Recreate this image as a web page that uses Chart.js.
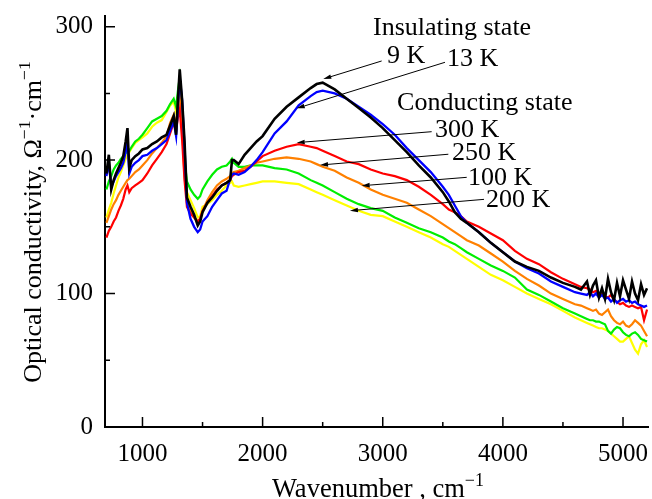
<!DOCTYPE html>
<html>
<head>
<meta charset="utf-8">
<script src="https://cdn.jsdelivr.net/npm/chart.js@4.4.1/dist/chart.umd.min.js"></script>
<style>
  html, body { margin: 0; padding: 0; background: #fff; }
  canvas { display: block; }
</style>
</head>
<body>
<canvas id="spectra" width="652" height="499"></canvas>
<script>
// wavenumber grid (cm^-1), shared by all spectra
const wavenumbers = [
  700, 720, 740, 760, 780, 800, 820, 840, 860, 875, 890, 910, 940, 970,
  1000, 1040, 1080, 1120, 1160, 1200,
  1230, 1260, 1280, 1295, 1310, 1330, 1350, 1370,
  1400, 1430, 1460, 1480, 1500,
  1540, 1580, 1620, 1660, 1700, 1730, 1745, 1760, 1800,
  1850, 1900, 1950, 2000,
  2100, 2200, 2300, 2400, 2450, 2500,
  2600, 2700, 2800, 2900, 3000, 3100, 3200, 3300, 3400, 3500,
  3550, 3600, 3650, 3700,
  3800, 3900, 4000, 4100, 4200, 4300, 4400, 4500, 4600,
  4650, 4700, 4725, 4750, 4775, 4800, 4825, 4850, 4875, 4900, 4925, 4950, 4975,
  5000, 5025, 5050, 5075, 5100, 5125, 5150, 5175, 5200
];

// optical conductivity, Ohm^-1 cm^-1
const k9 = [
  190, 204, 178, 185, 190, 194, 198, 203, 214, 224, 194, 200, 203, 205,
  208, 209, 212, 214, 217, 219,
  226, 233, 219, 245, 268, 245, 214, 172,
  165, 159, 151, 154, 161,
  168, 172, 177, 181, 183, 185, 200, 200, 197,
  204, 209, 214, 218,
  231, 240, 247, 254, 257, 258,
  253, 246, 239, 232, 224, 215, 206, 196, 187, 176,
  169, 161, 156, 153,
  146, 138, 131, 124, 120, 117, 112, 108, 105,
  103, 109, 99, 106, 110, 97, 104, 96, 111, 101, 95, 108, 98,
  110, 103, 96, 109, 100, 95, 107, 99, 104
];
const k13 = [
  188, 198, 180, 184, 188, 191, 194, 198, 206, 215, 190, 195, 198, 200,
  203, 204, 207, 209, 212, 215,
  222, 229, 218, 240, 262, 245, 210, 168,
  156, 150, 146, 148, 154,
  158, 165, 170, 175, 177, 186, 189, 190, 189,
  191, 195, 200, 206,
  220, 229, 241, 248, 251, 252,
  250, 246, 240, 234, 227, 219, 209, 200, 191, 180,
  174, 166, 158, 153,
  146, 138, 131, 124, 119, 115, 109, 105, 101,
  100, 99, 101, 98, 100, 97, 99, 96, 97, 94, 96, 93, 95,
  96, 94, 95, 93, 94, 92, 91, 90, 91
];
const k300 = [
  142, 147, 150, 154, 157, 162, 166, 171, 178, 181, 176, 179, 181, 183,
  185, 190, 196, 201, 206, 212,
  220, 228, 222, 232, 238, 215, 185, 165,
  160, 157, 154, 156, 162,
  168, 173, 178, 181, 183, 185, 188, 189, 191,
  192, 195, 199, 203,
  207, 210, 212, 210, 209, 207,
  203, 199, 197, 193, 190, 188, 185, 180, 174, 167,
  163, 161, 158, 154,
  150, 145, 140, 132, 126, 122, 116, 111, 107,
  105, 104, 103, 101, 102, 99, 100, 98, 97, 99, 95, 94, 92,
  93, 91, 90, 91, 90, 89, 90, 80, 88
];
const k250 = [
  153, 158, 163, 167, 170, 174, 177, 180, 183, 185, 186, 188, 191, 193,
  196, 200, 205, 209, 213, 218,
  228, 234, 226, 240, 248, 225, 188, 170,
  162, 157, 154, 156, 162,
  170, 176, 181, 184, 186, 188, 190, 191, 192,
  194, 196, 198, 199,
  201, 202, 201, 199, 197, 195,
  192, 187, 183, 178, 174, 171, 168, 163, 158, 152,
  149, 146, 143, 140,
  136, 130, 124, 117, 111, 106, 100, 96, 92,
  91, 89, 88, 87, 88, 85, 84, 86, 88, 83, 80, 78, 77,
  79, 76, 75, 77, 80, 78, 76, 72, 68
];
const k100 = [
  178, 184, 188, 193, 196, 198, 201, 203, 205, 207, 207, 210, 214, 216,
  219, 224, 229, 231, 233, 237,
  242, 246, 240, 252, 262, 240, 200, 184,
  178, 174, 171, 173, 178,
  184, 189, 193, 195, 196, 199, 201, 198, 195,
  195, 196, 196, 196,
  194, 193, 190, 185, 183, 181,
  176, 171, 167, 164, 162, 157, 153, 149, 146, 142,
  139, 137, 134, 131,
  126, 121, 117, 112, 103, 99, 94, 89, 85,
  83, 81, 80, 80, 79, 79, 78, 77, 72, 70, 73, 75, 74,
  71, 69, 68, 70, 71, 69, 66, 65, 64
];
const k200 = [
  157, 163, 168, 175, 181, 187, 191, 196, 201, 204, 206, 209, 213, 215,
  217, 220, 225, 228, 230, 236,
  241, 244, 236, 248, 255, 230, 192, 176,
  170, 164, 157, 158, 165,
  167, 170, 174, 177, 181, 183, 184, 181, 180,
  181, 182, 183, 184,
  184, 183, 182, 178, 176, 174,
  170, 166, 162, 159, 158, 154, 150, 146, 142, 137,
  135, 132, 129, 126,
  120, 114, 110, 105, 100, 96, 92, 87, 82,
  80, 78, 77, 76, 75, 74, 74, 73, 72, 70, 68, 66, 64,
  64, 66, 68, 63, 58, 55, 62, 65, 60
];

const xMajor = [1000, 2000, 3000, 4000, 5000];
const xMinor = [1500, 2500, 3500, 4500];
const yMajor = [0, 100, 200, 300];
const yMinor = [50, 150, 250];

// annotation texts: [text, wavenumber of left edge, value at baseline]
const notes = [
  ['Insulating state', 2919, 293.8],
  ['9 K', 3035, 272.8],
  ['13 K', 3535, 270.5],
  ['Conducting state', 3119, 237.6],
  ['300 K', 3435, 217.3],
  ['250 K', 3576, 200.1],
  ['100 K', 3710, 181.4],
  ['200 K', 3860, 164.9]
];
// arrows: [tail x, tail y, head x, head y] in data units
const arrows = [
  [2991, 274.3, 2505, 260.8],
  [3518, 273.3, 2284, 238.8],
  [3407, 221.3, 2284, 213.1],
  [3546, 204.4, 2478, 196.3],
  [3699, 187.1, 2825, 180.8],
  [3843, 170.6, 2727, 162.1]
];

const SERIF = "'Liberation Serif', 'Times New Roman', serif";

function series(label, values, color, width) {
  return {
    label,
    data: wavenumbers.map((w, i) => ({ x: w, y: values[i] })),
    borderColor: color,
    borderWidth: width,
    pointRadius: 0,
    tension: 0,
    fill: false
  };
}

// text with superscript pieces, drawn left to right from x
function richWidth(ctx, parts, size) {
  let w = 0;
  parts.forEach(p => {
    ctx.font = (p.sup ? size * 0.68 : size) + 'px ' + SERIF;
    w += ctx.measureText(p.t).width;
  });
  return w;
}
function drawRich(ctx, parts, x, y, size) {
  parts.forEach(p => {
    const s = p.sup ? size * 0.68 : size;
    ctx.font = s + 'px ' + SERIF;
    ctx.fillText(p.t, x, p.sup ? y - size * 0.42 : y);
    x += ctx.measureText(p.t).width;
  });
}

const overlay = {
  id: 'overlay',
  afterDraw(chart) {
    const { ctx, chartArea: area } = chart;
    const x = chart.scales.x, y = chart.scales.y;
    ctx.save();
    ctx.strokeStyle = '#000';
    ctx.fillStyle = '#000';

    // inward tick marks
    ctx.lineWidth = 1.5;
    ctx.beginPath();
    xMajor.forEach(v => { const px = x.getPixelForValue(v); ctx.moveTo(px, area.bottom); ctx.lineTo(px, area.bottom - 10); });
    xMinor.forEach(v => { const px = x.getPixelForValue(v); ctx.moveTo(px, area.bottom); ctx.lineTo(px, area.bottom - 5); });
    yMajor.slice(1).forEach(v => { const py = y.getPixelForValue(v); ctx.moveTo(area.left, py); ctx.lineTo(area.left + 10, py); });
    yMinor.forEach(v => { const py = y.getPixelForValue(v); ctx.moveTo(area.left, py); ctx.lineTo(area.left + 5, py); });
    ctx.stroke();

    // axis titles
    ctx.textAlign = 'left';
    ctx.textBaseline = 'alphabetic';
    const xt = [{ t: 'Wavenumber , cm' }, { t: '\u22121', sup: true }];
    drawRich(ctx, xt, 378 - richWidth(ctx, xt, 26.5) / 2, 497, 26.5);

    const yt = [{ t: 'Optical conductivity, \u03A9' }, { t: '\u22121', sup: true }, { t: '\u00B7cm' }, { t: '\u22121', sup: true }];
    ctx.save();
    ctx.translate(41, 222);
    ctx.rotate(-Math.PI / 2);
    drawRich(ctx, yt, -richWidth(ctx, yt, 26) / 2, 0, 26);
    ctx.restore();

    // labels
    ctx.font = '26px ' + SERIF;
    notes.forEach(([t, wx, vy]) => ctx.fillText(t, x.getPixelForValue(wx), y.getPixelForValue(vy)));

    // arrows
    ctx.lineWidth = 1;
    arrows.forEach(([x0, y0, x1, y1]) => {
      const ax = x.getPixelForValue(x0), ay = y.getPixelForValue(y0);
      const bx = x.getPixelForValue(x1), by = y.getPixelForValue(y1);
      const ang = Math.atan2(by - ay, bx - ax);
      const len = 8, half = 2.3;
      const cx = bx - len * Math.cos(ang), cy = by - len * Math.sin(ang);
      ctx.beginPath();
      ctx.moveTo(ax, ay);
      ctx.lineTo(cx, cy);
      ctx.stroke();
      ctx.beginPath();
      ctx.moveTo(bx, by);
      ctx.lineTo(cx + half * Math.sin(ang), cy - half * Math.cos(ang));
      ctx.lineTo(cx - half * Math.sin(ang), cy + half * Math.cos(ang));
      ctx.closePath();
      ctx.fill();
    });
    ctx.restore();
  }
};

new Chart(document.getElementById('spectra'), {
  type: 'line',
  data: {
    datasets: [
      series('9 K', k9, '#000000', 2.6),
      series('13 K', k13, '#0000ff', 2.3),
      series('300 K', k300, '#ff0000', 2.2),
      series('250 K', k250, '#ff8000', 2.2),
      series('100 K', k100, '#00ee00', 2.2),
      series('200 K', k200, '#ffff00', 2.2)
    ]
  },
  options: {
    responsive: false,
    devicePixelRatio: 1,
    animation: false,
    layout: { padding: { top: 16, right: 4, left: 0, bottom: 0 } },
    plugins: { legend: { display: false }, tooltip: { enabled: false } },
    scales: {
      x: {
        type: 'linear',
        min: 688,
        max: 5208,
        afterBuildTicks: s => { s.ticks = xMajor.map(v => ({ value: v })); },
        afterFit: s => { s.height = 72; s.paddingLeft = 0; s.paddingRight = 0; },
        grid: { display: false, drawTicks: false },
        border: { display: true, color: '#000', width: 2 },
        ticks: {
          autoSkip: false, maxRotation: 0, padding: 12,
          color: '#000', font: { family: SERIF, size: 25 },
          callback: v => String(v)
        }
      },
      y: {
        min: 0,
        max: 308,
        afterBuildTicks: s => { s.ticks = yMajor.map(v => ({ value: v })); },
        afterFit: s => { s.width = 105; s.paddingTop = 0; s.paddingBottom = 0; },
        grid: { display: false, drawTicks: false },
        border: { display: true, color: '#000', width: 2 },
        ticks: {
          autoSkip: false, padding: 12,
          color: '#000', font: { family: SERIF, size: 25 },
          callback: v => String(v)
        }
      }
    }
  },
  plugins: [overlay]
});
</script>
</body>
</html>
